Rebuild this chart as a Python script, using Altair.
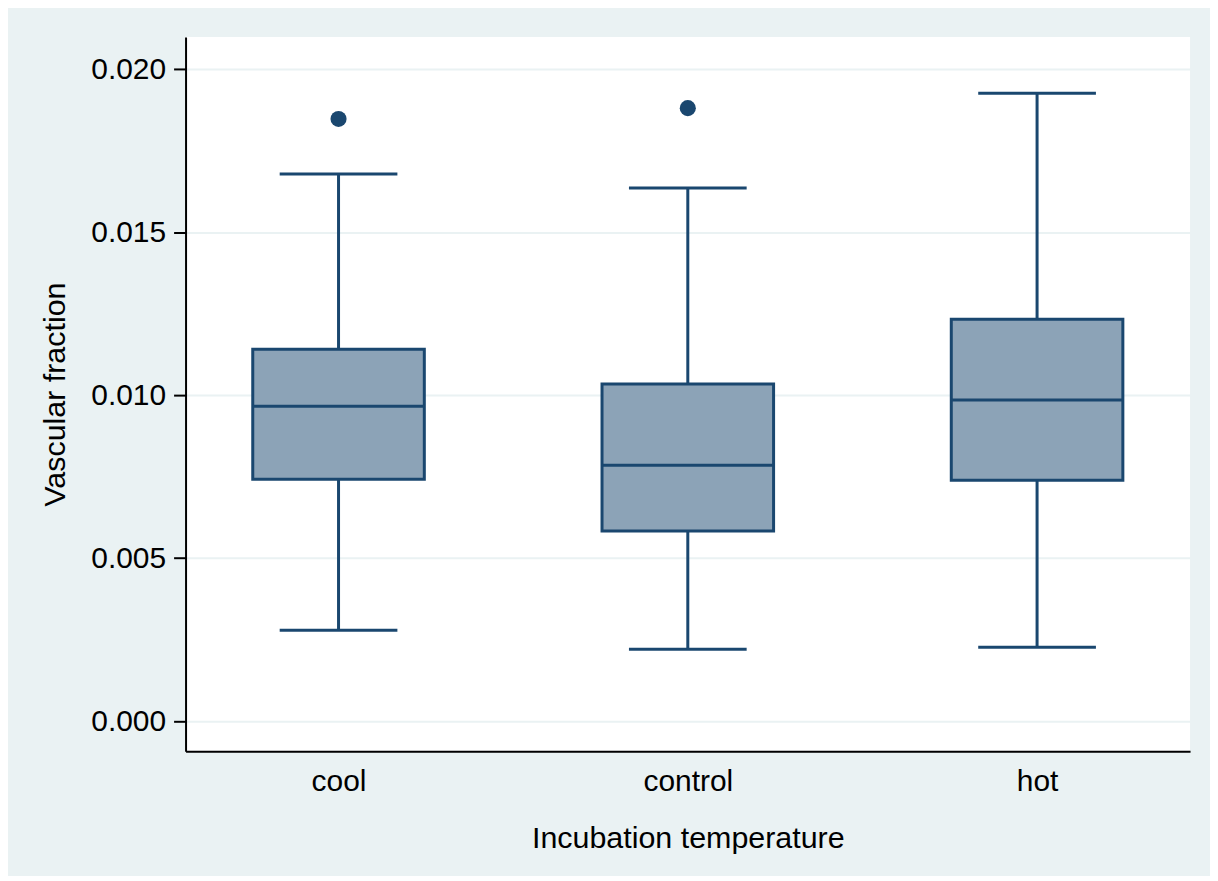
import altair as alt
import pandas as pd

groups = ["cool", "control", "hot"]
lower = [0.00279, 0.00221, 0.00227]
q1 = [0.00742, 0.00583, 0.00739]
median = [0.00966, 0.00785, 0.00985]
q3 = [0.01141, 0.01034, 0.01233]
upper = [0.01678, 0.01635, 0.01926]

outlier_groups = ["cool", "control"]
outlier_values = [0.01847, 0.01880]

y_ticks = [0.0, 0.005, 0.010, 0.015, 0.020]

stats = pd.DataFrame({"group": groups, "lower": lower, "q1": q1,
                      "median": median, "q3": q3, "upper": upper})
outs = pd.DataFrame({"group": outlier_groups, "value": outlier_values})

NAVY = "#1a476f"
FILL = "#8ca3b7"
BG = "#eaf2f3"
FONT = "Liberation Sans"

x_enc = alt.X("group:N", sort=groups,
              scale=alt.Scale(type="point", padding=0.438),
              axis=alt.Axis(title="Incubation temperature", labelAngle=0,
                            ticks=False, labelPadding=15, titlePadding=28,
                            grid=False))
y_scale = alt.Scale(domain=[-0.00092, 0.020982], nice=False, zero=False)
y_axis = alt.Axis(title="Vascular fraction", values=y_ticks, format=".3f",
                  tickSize=12, tickWidth=2, tickColor="black",
                  labelPadding=8, titlePadding=20, grid=True,
                  gridColor=BG, gridWidth=2)

base = alt.Chart(stats)

whisker = base.mark_rule(color=NAVY, strokeWidth=3).encode(
    x=x_enc,
    y=alt.Y("lower:Q", scale=y_scale, axis=y_axis),
    y2="upper:Q",
)
box = base.mark_bar(size=172, color=FILL, stroke=NAVY, strokeWidth=3,
                    opacity=1).encode(
    x=alt.X("group:N", sort=groups),
    y="q1:Q",
    y2="q3:Q",
)
med = base.mark_tick(size=172, thickness=3, color=NAVY, opacity=1).encode(
    x=alt.X("group:N", sort=groups),
    y="median:Q",
)
cap_lo = base.mark_tick(size=118, thickness=3, color=NAVY, opacity=1).encode(
    x=alt.X("group:N", sort=groups),
    y="lower:Q",
)
cap_hi = base.mark_tick(size=118, thickness=3, color=NAVY, opacity=1).encode(
    x=alt.X("group:N", sort=groups),
    y="upper:Q",
)
pts = alt.Chart(outs).mark_circle(size=260, color=NAVY, opacity=1).encode(
    x=alt.X("group:N", sort=groups),
    y="value:Q",
)

chart = alt.layer(whisker, box, med, cap_lo, cap_hi, pts).properties(
    width=1007, height=716,
    autosize=alt.AutoSizeParams(type="none"),
    padding={"left": 178, "top": 28, "right": 20, "bottom": 124},
    background=BG,
).configure_view(
    fill="white", stroke=None
).configure_axis(
    labelFont=FONT, titleFont=FONT, labelFontSize=30, titleFontSize=30.5,
    labelColor="black", titleColor="black", titleFontWeight="normal",
    domainColor="black", domainWidth=2,
)

chart.save("out.html", embed_options={"renderer": "svg", "actions": False})
